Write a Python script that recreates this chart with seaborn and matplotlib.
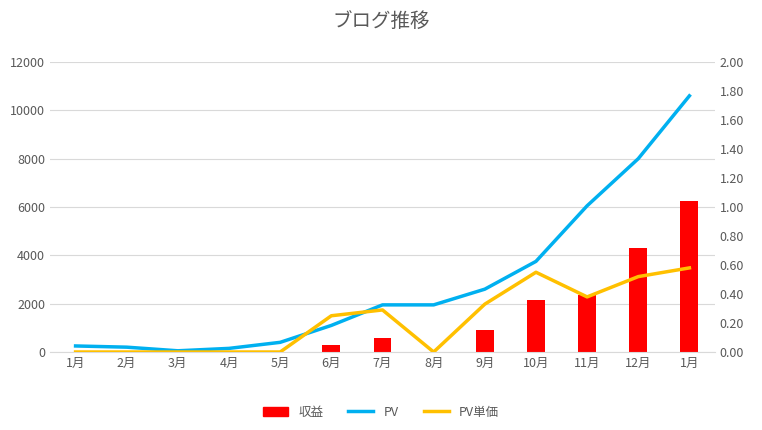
import matplotlib.pyplot as plt
import pandas as pd
import seaborn as sns
from matplotlib.lines import Line2D
from matplotlib.patches import Patch

plt.rcParams["font.family"] = ["Noto Sans CJK JP", "DejaVu Sans"]

months = ["1月", "2月", "3月", "4月", "5月", "6月", "7月", "8月", "9月", "10月", "11月", "12月", "1月"]
revenue = [0, 0, 0, 0, 0, 300, 600, 0, 900, 2150, 2350, 4300, 6250]
pv = [250, 200, 50, 150, 400, 1100, 1950, 1950, 2600, 3750, 6050, 8000, 10600]
pv_unit = [0, 0, 0, 0, 0, 0.25, 0.29, 0, 0.33, 0.55, 0.38, 0.52, 0.58]

df = pd.DataFrame({"idx": range(len(months)), "revenue": revenue, "pv": pv, "pv_unit": pv_unit})

fig = plt.figure(figsize=(7.62, 4.30), dpi=100)
ax = fig.add_axes([50 / 762, 78 / 430, 665 / 762, 290 / 430])
ax2 = ax.twinx()

sns.barplot(data=df, x="idx", y="revenue", color="#ff0000", width=0.35, saturation=1, ax=ax)
sns.lineplot(data=df, x="idx", y="pv", color="#00b0f0", linewidth=2.5, ax=ax)
sns.lineplot(data=df, x="idx", y="pv_unit", color="#ffc000", linewidth=2.5, ax=ax2)

ax.set_ylim(0, 12000)
ax.set_yticks(range(0, 12001, 2000))
ax2.set_ylim(0, 2.0)
ax2.set_yticks([i * 0.2 for i in range(11)])
ax2.set_yticklabels([f"{i * 0.2:.2f}" for i in range(11)])
ax.set_xlim(-0.5, len(months) - 0.5)
ax.set_xticks(range(len(months)))
ax.set_xticklabels(months)

for a in (ax, ax2):
    a.set_xlabel("")
    a.set_ylabel("")
    for s in a.spines.values():
        s.set_visible(False)
    a.tick_params(length=0, labelsize=9, colors="#595959")
ax.spines["bottom"].set_visible(True)
ax.spines["bottom"].set_color("#d9d9d9")
ax.grid(True, axis="y", color="#d9d9d9", linewidth=0.8)
ax.set_axisbelow(True)

fig.suptitle("ブログ推移", x=0.5, y=0.975, fontsize=14, color="#595959")

handles = [
    Patch(color="#ff0000", label="収益"),
    Line2D([], [], color="#00b0f0", linewidth=2.5, label="PV"),
    Line2D([], [], color="#ffc000", linewidth=2.5, label="PV単価"),
]
fig.legend(handles=handles, loc="lower center", ncol=3, frameon=False,
           fontsize=9, bbox_to_anchor=(0.5, 0.0), labelcolor="#595959")

fig.savefig("out.png", dpi=100)
